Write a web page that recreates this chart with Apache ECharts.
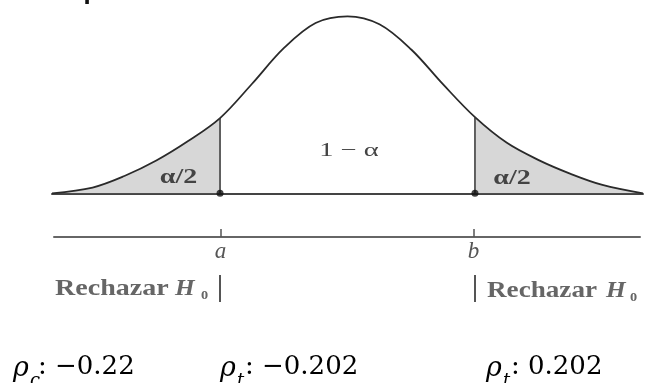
<!DOCTYPE html>
<html>
<head>
<meta charset="utf-8">
<title>Prueba bilateral</title>
<script src="https://cdn.jsdelivr.net/npm/echarts@6.0.0/dist/echarts.min.js"></script>
<style>
    html, body { margin: 0; padding: 0; background: #fff; }
    #main { width: 648px; height: 383px; }
</style>
</head>
<body>
<div id="main"></div>
<script>
// curva (z, altura)
var curveX = [-3.0, -2.588, -2.265, -1.941, -1.618, -1.294, -0.971, -0.647, -0.324, 0,
    0.324, 0.647, 0.971, 1.294, 1.618, 1.941, 2.265, 2.588, 3.0];
var curveY = [0, 0.013, 0.039, 0.074, 0.118, 0.170, 0.247, 0.328, 0.385, 0.400,
    0.382, 0.325, 0.246, 0.172, 0.114, 0.075, 0.044, 0.019, 0];

// valores criticos a y b
var cutValues = [-1.294, 1.294];
var cutNames = ['a', 'b'];

var regionLabels = ['α/2', '1 − α', 'α/2'];
var resultLabels = [
    { sub: 'c', value: ': −0.22' },
    { sub: 't', value: ': −0.202' },
    { sub: 't', value: ': 0.202' }
];

var curveData = [];
for (var i = 0; i < curveX.length; i++) {
    curveData.push([curveX[i], curveY[i]]);
}
var leftTail = curveData.slice(0, 6);
var rightTail = curveData.slice(13);

function cutLine(v, h) {
    return [[v, 0], [v, h]];
}

var chart = echarts.init(document.getElementById('main'));

var serif = '"Liberation Serif", "DejaVu Serif", serif';
var mathFont = '"DejaVu Serif", serif';

var option = {
    backgroundColor: '#fff',
    animation: false,
    grid: [
        { left: 52, right: 5, top: 7.45, bottom: 189.7 },
        { left: 54, right: 8, top: 200, bottom: 146 }
    ],
    xAxis: [{
        type: 'value',
        gridIndex: 0,
        min: -3,
        max: 3,
        axisLine: { show: true, lineStyle: { color: '#444', width: 2 } },
        axisTick: { show: false },
        axisLabel: { show: false },
        splitLine: { show: false }
    }, {
        type: 'value',
        gridIndex: 1,
        min: -3,
        max: 3,
        axisLine: { show: true, onZero: false, lineStyle: { color: '#666', width: 2 } },
        axisTick: {
            show: true,
            inside: true,
            length: 8,
            customValues: cutValues,
            lineStyle: { color: '#555', width: 1.5 }
        },
        axisLabel: {
            show: true,
            customValues: cutValues,
            margin: 3,
            color: '#555',
            fontFamily: serif,
            fontStyle: 'italic',
            fontSize: 23,
            formatter: function (v) {
                return v < 0 ? cutNames[0] : cutNames[1];
            }
        },
        splitLine: { show: false }
    }],
    yAxis: [{
        type: 'value',
        gridIndex: 0,
        min: 0,
        max: 0.42,
        show: false
    }, {
        type: 'value',
        gridIndex: 1,
        min: 0,
        max: 1,
        show: false
    }],
    series: [{
        type: 'line',
        data: leftTail,
        smooth: 0.4,
        showSymbol: false,
        lineStyle: { width: 0 },
        areaStyle: { color: '#d7d7d7', opacity: 1 },
        z: 1
    }, {
        type: 'line',
        data: rightTail,
        smooth: 0.4,
        showSymbol: false,
        lineStyle: { width: 0 },
        areaStyle: { color: '#d7d7d7', opacity: 1 },
        z: 1
    }, {
        type: 'line',
        data: curveData,
        smooth: 0.35,
        showSymbol: false,
        lineStyle: { color: '#2a2a2a', width: 1.8 },
        z: 3
    }, {
        type: 'line',
        data: cutLine(cutValues[0], curveY[5]),
        showSymbol: false,
        lineStyle: { color: '#333', width: 1.5 },
        z: 3
    }, {
        type: 'line',
        data: cutLine(cutValues[1], curveY[13]),
        showSymbol: false,
        lineStyle: { color: '#333', width: 1.5 },
        z: 3
    }, {
        type: 'scatter',
        data: [[cutValues[0], 0], [cutValues[1], 0]],
        symbolSize: 7,
        itemStyle: { color: '#111' },
        z: 4
    }],
    graphic: [
        // titulo cortado arriba
        {
            type: 'text', x: 22, y: 3, z: 100,
            style: { text: 'es Superior', font: 'bold 24px "Noto Sans", sans-serif', fill: '#111', verticalAlign: 'bottom' }
        },
        {
            type: 'text', x: 178.5, y: 178, scaleX: 1.4, z: 100,
            style: { text: regionLabels[0], font: 'bold 20px ' + serif, fill: '#444', align: 'center', verticalAlign: 'middle' }
        },
        {
            type: 'text', x: 349, y: 151, scaleX: 1.5, z: 100,
            style: { text: regionLabels[1], font: '19px ' + serif, fill: '#444', align: 'center', verticalAlign: 'middle' }
        },
        {
            type: 'text', x: 512, y: 178.5, scaleX: 1.4, z: 100,
            style: { text: regionLabels[2], font: 'bold 20px ' + serif, fill: '#444', align: 'center', verticalAlign: 'middle' }
        },
        // Rechazar H0 izquierda
        {
            type: 'text', x: 55, y: 289, scaleX: 1.22, z: 100,
            style: { text: 'Rechazar', font: 'bold 23px ' + serif, fill: '#666', verticalAlign: 'middle' }
        },
        {
            type: 'text', x: 175, y: 289, scaleX: 1.1, z: 100,
            style: { text: 'H', font: 'italic bold 23px ' + serif, fill: '#666', verticalAlign: 'middle' }
        },
        {
            type: 'text', x: 201, y: 296, scaleX: 1.1, z: 100,
            style: { text: '0', font: 'bold 13px ' + serif, fill: '#666', verticalAlign: 'middle' }
        },
        {
            type: 'line', shape: { x1: 220, y1: 275, x2: 220, y2: 302 }, z: 100,
            style: { stroke: '#555', lineWidth: 2 }
        },
        // Rechazar H0 derecha
        {
            type: 'line', shape: { x1: 475, y1: 275, x2: 475, y2: 302 }, z: 100,
            style: { stroke: '#555', lineWidth: 2 }
        },
        {
            type: 'text', x: 487, y: 291, scaleX: 1.18, z: 100,
            style: { text: 'Rechazar', font: 'bold 23px ' + serif, fill: '#666', verticalAlign: 'middle' }
        },
        {
            type: 'text', x: 606, y: 291, scaleX: 1.1, z: 100,
            style: { text: 'H', font: 'italic bold 23px ' + serif, fill: '#666', verticalAlign: 'middle' }
        },
        {
            type: 'text', x: 630, y: 298, scaleX: 1.1, z: 100,
            style: { text: '0', font: 'bold 13px ' + serif, fill: '#666', verticalAlign: 'middle' }
        }
    ]
};

// valores de rho abajo
var resultX = [13, 220, 486];
for (var k = 0; k < resultLabels.length; k++) {
    var x0 = resultX[k];
    option.graphic.push({
        type: 'text', x: x0, y: 369, z: 100,
        style: { text: 'ρ', font: 'italic 27px ' + mathFont, fill: '#000', verticalAlign: 'middle' }
    });
    option.graphic.push({
        type: 'text', x: x0 + 17, y: 381, z: 100,
        style: { text: resultLabels[k].sub, font: 'italic 18px ' + mathFont, fill: '#000', verticalAlign: 'middle' }
    });
    option.graphic.push({
        type: 'text', x: x0 + 25, y: 367, z: 100,
        style: { text: resultLabels[k].value, font: '26px ' + mathFont, fill: '#000', verticalAlign: 'middle' }
    });
}

chart.setOption(option);
</script>
</body>
</html>
